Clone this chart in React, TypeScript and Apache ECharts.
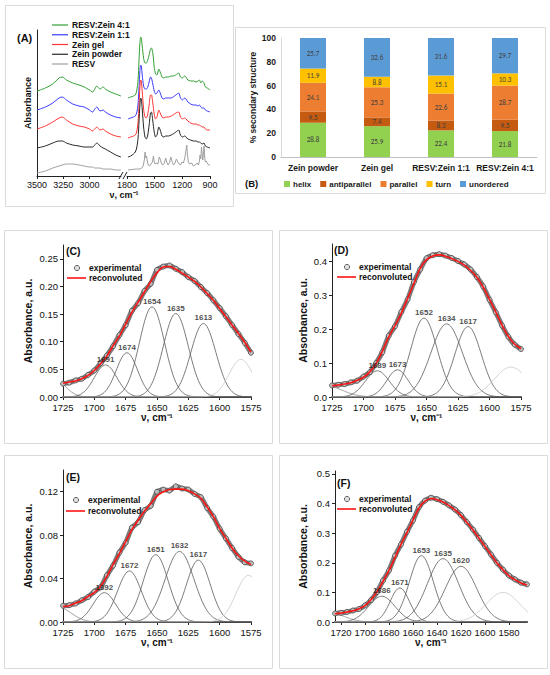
import { useEffect, useRef } from "react";
import * as echarts from "echarts";

const SANS = "'Liberation Sans', Arial, sans-serif";
const CAL = "Carlito, Lato, 'Liberation Sans', sans-serif";

// ---------- Panel A: FTIR spectra (offset, arbitrary units) ----------
const aHighWn = [3500, 3420, 3350, 3290, 3260, 3220, 3160, 3100, 3050, 3000, 2970, 2950, 2930, 2900, 2870, 2850, 2800, 2750, 2700];
const aHigh41 = [85, 88, 92, 98, 99, 96, 93, 91, 89, 86, 84, 87, 90, 87, 89, 87, 84, 82, 80];
const aHigh11 = [66, 69, 73, 78, 79, 76, 72, 70, 69, 66, 64, 67, 69, 65, 66, 64, 61, 59, 58];
const aHighGel = [47, 50, 54, 58, 59, 56, 52, 50, 49, 47, 45, 47, 49, 46, 47, 45, 42, 40, 39];
const aHighPowder = [28, 30, 33, 35, 35, 33, 31, 30, 29, 29, 29, 31, 33, 30, 28, 27, 24, 21, 19];
const aHighResv = [3, 5, 8, 10, 11, 12, 12, 11, 10, 9, 9, 8, 8, 8, 7, 7, 7, 6, 6];

const aLowWn = [1790, 1760, 1730, 1710, 1695, 1680, 1670, 1660, 1652, 1645, 1635, 1620, 1605, 1590, 1575, 1560, 1545, 1535, 1520, 1505, 1490, 1475, 1455, 1440, 1420, 1400, 1380, 1350, 1320, 1300, 1270, 1240, 1220, 1200, 1175, 1160, 1140, 1110, 1080, 1050, 1030, 1015, 1000, 985, 965, 950, 930, 900];
const aLow41 = [78, 79, 80, 81, 85, 96, 115, 133, 139, 138, 130, 118, 113, 113, 116, 121, 127, 128, 123, 109, 102, 101, 107, 104, 99, 98, 99, 99, 100, 100, 101, 103, 99, 98, 100, 99, 96, 95, 95, 94, 95, 96, 93, 95, 93, 89, 88, 86];
const aLow11 = [57, 58, 59, 60, 63, 72, 88, 105, 111, 110, 101, 90, 87, 87, 89, 94, 99, 98, 92, 85, 82, 83, 86, 83, 78, 77, 78, 78, 78, 79, 81, 83, 78, 76, 78, 77, 74, 72, 71, 71, 70, 71, 69, 68, 68, 66, 65, 64];
const aLowGel = [38, 39, 40, 41, 44, 54, 71, 89, 96, 95, 85, 67, 59, 58, 62, 71, 81, 81, 73, 62, 57, 59, 66, 63, 59, 58, 59, 59, 60, 61, 63, 64, 59, 57, 58, 57, 55, 53, 52, 52, 51, 51, 50, 49, 49, 47, 46, 46];
const aLowPowder = [19, 20, 22, 24, 28, 38, 54, 71, 78, 77, 67, 49, 39, 37, 41, 51, 63, 64, 55, 44, 39, 41, 49, 46, 40, 39, 40, 40, 41, 42, 44, 46, 41, 39, 40, 39, 37, 36, 35, 35, 34, 34, 33, 32, 33, 30, 29, 28];
const aResvWn = [1790, 1700, 1660, 1640, 1625, 1612, 1604, 1596, 1588, 1580, 1570, 1555, 1540, 1525, 1513, 1505, 1495, 1485, 1465, 1450, 1440, 1425, 1410, 1395, 1380, 1370, 1355, 1340, 1325, 1310, 1295, 1280, 1265, 1250, 1235, 1220, 1205, 1190, 1175, 1160, 1152, 1145, 1135, 1120, 1100, 1080, 1060, 1040, 1025, 1015, 1008, 1000, 992, 985, 978, 970, 965, 958, 950, 940, 925, 910, 900];
const aLowResv = [6, 7, 7, 8, 10, 16, 24, 18, 20, 15, 11, 10, 12, 14, 20, 14, 12, 13, 12, 19, 17, 12, 11, 13, 18, 14, 11, 13, 19, 14, 11, 13, 17, 14, 12, 11, 14, 13, 17, 26, 31, 22, 14, 12, 13, 10, 11, 13, 11, 15, 21, 17, 29, 22, 16, 24, 30, 19, 14, 15, 12, 11, 11];
const aNames = ["RESV:Zein 4:1", "RESV:Zein 1:1", "Zein gel", "Zein powder", "RESV"];
const aColors = ["#35a035", "#3a3aff", "#ff3434", "#262626", "#a0a0a0"];
const aHighTicks = [3500, 3250, 3000];
const aLowTicks = [1800, 1500, 1200, 900];

// ---------- Panel B: secondary structure (%) ----------
const bCategories = ["Zein powder", "Zein gel", "RESV:Zein 1:1", "RESV:Zein 4:1"];
const bHelix = [28.8, 25.9, 22.4, 21.8];
const bAntiparallel = [9.5, 7.4, 8.3, 9.5];
const bParallel = [24.1, 25.3, 22.6, 28.7];
const bTurn = [11.9, 8.8, 15.1, 10.3];
const bUnordered = [25.7, 32.6, 31.6, 29.7];
const bNames = ["helix", "antiparallel", "parallel", "turn", "unordered"];
const bColors = ["#92d050", "#c55a11", "#ed7d31", "#ffc000", "#5b9bd5"];

// ---------- Panels C-F: amide I band deconvolution ----------
const cdeWn = [1725, 1720, 1715, 1710, 1705, 1700, 1695, 1690, 1685, 1680, 1675, 1670, 1665, 1660, 1655, 1650, 1645, 1640, 1635, 1630, 1625, 1620, 1615, 1610, 1605, 1600, 1595, 1590, 1585, 1580, 1575];
const fWn = [1725, 1720, 1715, 1710, 1705, 1700, 1695, 1690, 1685, 1680, 1675, 1670, 1665, 1660, 1655, 1650, 1645, 1640, 1635, 1630, 1625, 1620, 1615, 1610, 1605, 1600, 1595, 1590, 1585, 1580, 1575, 1570, 1565];

const expC = [0.024, 0.026, 0.030, 0.033, 0.040, 0.048, 0.061, 0.075, 0.092, 0.112, 0.130, 0.156, 0.170, 0.192, 0.205, 0.230, 0.236, 0.238, 0.232, 0.226, 0.217, 0.210, 0.199, 0.188, 0.175, 0.161, 0.146, 0.130, 0.114, 0.098, 0.080];
const fitC = [0.025, 0.027, 0.029, 0.033, 0.039, 0.048, 0.060, 0.074, 0.093, 0.110, 0.132, 0.153, 0.172, 0.190, 0.209, 0.225, 0.235, 0.236, 0.231, 0.224, 0.217, 0.209, 0.199, 0.187, 0.175, 0.160, 0.145, 0.130, 0.115, 0.099, 0.081];
const bandCenterC = [1733, 1691, 1674, 1654, 1635, 1613, 1583];
const bandHeightC = [0.035, 0.058, 0.080, 0.163, 0.151, 0.133, 0.068];
const bandSigmaC = [9, 9, 8.5, 10, 10, 10, 9.5];

const expD = [0.034, 0.036, 0.038, 0.043, 0.048, 0.060, 0.073, 0.100, 0.132, 0.180, 0.208, 0.250, 0.287, 0.338, 0.375, 0.408, 0.417, 0.420, 0.416, 0.409, 0.400, 0.390, 0.375, 0.353, 0.325, 0.286, 0.249, 0.210, 0.177, 0.154, 0.141];
const fitD = [0.033, 0.035, 0.038, 0.042, 0.049, 0.058, 0.074, 0.098, 0.135, 0.176, 0.210, 0.246, 0.290, 0.334, 0.378, 0.404, 0.415, 0.418, 0.414, 0.407, 0.399, 0.388, 0.372, 0.352, 0.323, 0.287, 0.250, 0.211, 0.178, 0.155, 0.142];
const bandCenterD = [1730, 1689, 1673, 1652, 1634, 1617, 1583];
const bandHeightD = [0.033, 0.077, 0.080, 0.232, 0.215, 0.207, 0.088];
const bandSigmaD = [13, 9.5, 8.5, 10.5, 12.5, 10.5, 13];

const expE = [0.015, 0.0155, 0.017, 0.020, 0.023, 0.028, 0.032, 0.043, 0.052, 0.064, 0.073, 0.087, 0.092, 0.103, 0.107, 0.120, 0.122, 0.121, 0.125, 0.123, 0.122, 0.118, 0.115, 0.105, 0.097, 0.086, 0.077, 0.068, 0.060, 0.055, 0.054];
const fitE = [0.0144, 0.015, 0.0175, 0.0196, 0.0236, 0.027, 0.033, 0.042, 0.053, 0.063, 0.074, 0.085, 0.094, 0.102, 0.109, 0.116, 0.120, 0.122, 0.1224, 0.1224, 0.121, 0.118, 0.114, 0.106, 0.097, 0.086, 0.077, 0.068, 0.061, 0.056, 0.053];
const bandCenterE = [1728, 1692, 1672, 1651, 1632, 1617, 1577];
const bandHeightE = [0.013, 0.027, 0.047, 0.062, 0.065, 0.057, 0.043];
const bandSigmaE = [10, 9, 9.5, 10, 11.5, 9.5, 10];

const expF = [0.029, 0.031, 0.034, 0.039, 0.044, 0.056, 0.074, 0.101, 0.140, 0.174, 0.224, 0.262, 0.305, 0.343, 0.388, 0.410, 0.420, 0.415, 0.406, 0.394, 0.380, 0.361, 0.337, 0.312, 0.284, 0.256, 0.228, 0.200, 0.177, 0.157, 0.144, 0.133, 0.127];
const fitF = [0.028, 0.030, 0.034, 0.038, 0.045, 0.055, 0.075, 0.102, 0.137, 0.174, 0.218, 0.262, 0.302, 0.345, 0.385, 0.408, 0.417, 0.413, 0.405, 0.393, 0.379, 0.360, 0.336, 0.311, 0.283, 0.255, 0.227, 0.199, 0.176, 0.156, 0.143, 0.132, 0.125];
const bandCenterF = [1730, 1686, 1671, 1653, 1635, 1620, 1585];
const bandHeightF = [0.033, 0.087, 0.115, 0.224, 0.214, 0.188, 0.100];
const bandSigmaF = [12, 11, 8, 10, 13, 13, 14];

const cdeXTicks = [1725, 1700, 1675, 1650, 1625, 1600, 1575];
const fXTicks = [1720, 1700, 1680, 1660, 1640, 1620, 1600, 1580];
const cYTicks = [0, 0.05, 0.1, 0.15, 0.2, 0.25];
const dYTicks = [0, 0.1, 0.2, 0.3, 0.4];
const eYTicks = [0, 0.04, 0.08, 0.12];
const fYTicks = [0, 0.1, 0.2, 0.3, 0.4, 0.5];

const zip = (xs: number[], ys: number[]) => xs.map((x, i) => [x, ys[i]]);
const plain = (v: number) => String(v);

function bandCurve(c: number, h: number, s: number, lo: number, hi: number) {
  const pts: number[][] = [];
  for (let x = lo; x <= hi; x += 1) pts.push([x, h * Math.exp(-((x - c) * (x - c)) / (2 * s * s))]);
  return pts;
}

function buildOption() {
  const grid: any[] = [];
  const xAxis: any[] = [];
  const yAxis: any[] = [];
  const series: any[] = [];
  const graphic: any[] = [];

  const axisLineDark = { show: true, lineStyle: { color: "#222", width: 1 } };

  // ----- Panel A -----
  grid.push({ left: 37, top: 30, width: 84, height: 146, outerBoundsMode: "none" });
  grid.push({ left: 127, top: 30, width: 83, height: 146, outerBoundsMode: "none" });
  const aX = (gi: number, min: number, max: number, ticks: number[]) => ({
    type: "value", gridIndex: gi, min, max, inverse: true,
    axisLine: axisLineDark,
    axisTick: { show: true, length: 3, customValues: ticks, lineStyle: { color: "#222" } },
    axisLabel: { customValues: ticks, fontSize: 9, color: "#111", margin: 4, fontFamily: SANS, formatter: plain },
    splitLine: { show: false },
  });
  xAxis.push(aX(0, 2700, 3500, aHighTicks));
  xAxis.push(aX(1, 900, 1800, aLowTicks));
  yAxis.push({
    type: "value", gridIndex: 0, min: 0, max: 146,
    axisLine: axisLineDark, axisTick: { show: false }, axisLabel: { show: false }, splitLine: { show: false },
    name: "Absorbance", nameLocation: "middle", nameGap: 5, nameRotate: 90,
    nameTextStyle: { fontSize: 9, fontWeight: "bold", fontFamily: SANS, color: "#111" },
  });
  yAxis.push({ type: "value", gridIndex: 1, min: 0, max: 146, show: false });
  const aHigh = [aHigh41, aHigh11, aHighGel, aHighPowder, aHighResv];
  const aLow = [aLow41, aLow11, aLowGel, aLowPowder];
  aHigh.forEach((vals, i) => {
    series.push({ type: "line", xAxisIndex: 0, yAxisIndex: 0, data: zip(aHighWn, vals), showSymbol: false, smooth: 0.3, silent: true, lineStyle: { color: aColors[i], width: 1 } });
  });
  aLow.forEach((vals, i) => {
    series.push({ type: "line", xAxisIndex: 1, yAxisIndex: 1, data: zip(aLowWn, vals), showSymbol: false, smooth: 0.25, silent: true, lineStyle: { color: aColors[i], width: 1 } });
  });
  series.push({ type: "line", xAxisIndex: 1, yAxisIndex: 1, data: zip(aResvWn, aLowResv), showSymbol: false, silent: true, lineStyle: { color: aColors[4], width: 1 } });

  // ----- Panel B -----
  grid.push({ left: 281, top: 38, width: 256, height: 119, outerBoundsMode: "none" });
  xAxis.push({
    type: "category", gridIndex: 2, data: bCategories,
    axisLine: { show: true, lineStyle: { color: "#bfbfbf" } }, axisTick: { show: false },
    axisLabel: { fontSize: 8.5, fontWeight: "bold", color: "#1a1a1a", margin: 6, fontFamily: SANS, interval: 0 },
  });
  yAxis.push({
    type: "value", gridIndex: 2, min: 0, max: 100, interval: 20,
    axisLine: { show: true, lineStyle: { color: "#d9d9d9" } }, axisTick: { show: false }, splitLine: { show: false },
    axisLabel: { fontSize: 8.5, fontWeight: "bold", color: "#1a1a1a", margin: 5, fontFamily: SANS },
    name: "% secondary structure", nameLocation: "middle", nameGap: 24, nameRotate: 90,
    nameTextStyle: { fontSize: 8.5, fontWeight: "bold", fontFamily: SANS, color: "#1a1a1a" },
  });
  [bHelix, bAntiparallel, bParallel, bTurn, bUnordered].forEach((vals, i) => {
    series.push({
      type: "bar", name: bNames[i], xAxisIndex: 2, yAxisIndex: 2, stack: "ss", data: vals, barWidth: 26,
      itemStyle: { color: bColors[i] }, silent: true,
      label: { show: true, position: "inside", fontSize: 7, color: "#404040", fontFamily: CAL, formatter: (p: any) => Number(p.value).toFixed(1) },
    });
  });

  // ----- Panels C-F -----
  type P = {
    wn: number[]; exp: number[]; fit: number[]; centers: number[]; heights: number[]; sigmas: number[];
    xMin: number; xMax: number; yMax: number; xTicks: number[]; yTicks: number[]; dec: number;
    left: number; top: number; width: number; height: number; yGap: number; xGap: number;
  };
  const panels: P[] = [
    { wn: cdeWn, exp: expC, fit: fitC, centers: bandCenterC, heights: bandHeightC, sigmas: bandSigmaC, xMin: 1575, xMax: 1725, yMax: 0.275, xTicks: cdeXTicks, yTicks: cYTicks, dec: 2, left: 63, top: 245, width: 188, height: 152, yGap: 30, xGap: 15 },
    { wn: cdeWn, exp: expD, fit: fitD, centers: bandCenterD, heights: bandHeightD, sigmas: bandSigmaD, xMin: 1575, xMax: 1725, yMax: 0.45, xTicks: cdeXTicks, yTicks: dYTicks, dec: 1, left: 332, top: 244, width: 189, height: 153, yGap: 24, xGap: 15 },
    { wn: cdeWn, exp: expE, fit: fitE, centers: bandCenterE, heights: bandHeightE, sigmas: bandSigmaE, xMin: 1575, xMax: 1725, yMax: 0.14, xTicks: cdeXTicks, yTicks: eYTicks, dec: 2, left: 63, top: 470, width: 188, height: 152, yGap: 30, xGap: 15 },
    { wn: fWn, exp: expF, fit: fitF, centers: bandCenterF, heights: bandHeightF, sigmas: bandSigmaF, xMin: 1565, xMax: 1725, yMax: 0.51, xTicks: fXTicks, yTicks: fYTicks, dec: 1, left: 335, top: 471, width: 192, height: 151, yGap: 27, xGap: 12 },
  ];
  panels.forEach((p, k) => {
    const gi = 3 + k;
    grid.push({ left: p.left, top: p.top, width: p.width, height: p.height, outerBoundsMode: "none" });
    xAxis.push({
      type: "value", gridIndex: gi, min: p.xMin, max: p.xMax, inverse: true,
      axisLine: axisLineDark,
      axisTick: { show: true, length: 3, customValues: p.xTicks, lineStyle: { color: "#222" } },
      axisLabel: { customValues: p.xTicks, fontSize: 9.5, color: "#111", margin: 5, fontFamily: SANS, formatter: plain },
      splitLine: { show: false },
      name: "ν, cm⁻¹", nameLocation: "middle", nameGap: p.xGap,
      nameTextStyle: { fontSize: 10, fontWeight: "bold", fontFamily: SANS, color: "#111" },
    });
    yAxis.push({
      type: "value", gridIndex: gi, min: 0, max: p.yMax,
      axisLine: axisLineDark,
      axisTick: { show: true, length: 3, customValues: p.yTicks, lineStyle: { color: "#222" } },
      axisLabel: { customValues: p.yTicks, fontSize: 9.5, color: "#111", margin: 5, fontFamily: SANS, formatter: (v: number) => v.toFixed(p.dec) },
      splitLine: { show: false },
      name: "Absorbance, a.u.", nameLocation: "middle", nameGap: p.yGap, nameRotate: 90,
      nameTextStyle: { fontSize: 10.5, fontWeight: "bold", fontFamily: SANS, color: "#111" },
    });
    const last = p.centers.length - 1;
    p.centers.forEach((c, j) => {
      const color = j === last ? "#c9c9c9" : j === 0 ? "#8a8a8a" : "#5a5a5a";
      series.push({
        type: "line", xAxisIndex: gi, yAxisIndex: gi, data: bandCurve(c, p.heights[j], p.sigmas[j], p.xMin - 20, p.xMax + 20),
        showSymbol: false, silent: true, clip: true, z: 2, lineStyle: { color, width: 0.8 },
      });
    });
    series.push({
      type: "line", name: "experimental", xAxisIndex: gi, yAxisIndex: gi, data: zip(p.wn, p.exp), silent: true,
      symbol: "circle", symbolSize: 5, showSymbol: true, smooth: 0.2, z: 3,
      lineStyle: { color: "#7a7a7a", width: 5 },
      itemStyle: { color: "#bdbdbd", borderColor: "#3c3c3c", borderWidth: 0.7 },
    });
    series.push({
      type: "line", name: "reconvoluted", xAxisIndex: gi, yAxisIndex: gi, data: zip(p.wn, p.fit), silent: true,
      showSymbol: false, smooth: 0.3, z: 4, lineStyle: { color: "#ff1414", width: 1.6 },
    });
    const labelled = p.centers.slice(1, last).map((c, j) => [c, p.heights[j + 1]]);
    series.push({
      type: "scatter", xAxisIndex: gi, yAxisIndex: gi, data: labelled, symbolSize: 1, silent: true, z: 10,
      itemStyle: { color: "rgba(0,0,0,0)" },
      label: { show: true, position: "top", distance: 1, fontSize: 8, fontWeight: "bold", fontFamily: SANS, color: "#1a1a1a", formatter: (q: any) => String(q.value[0]) },
    });
  });

  // ----- decorations: frames, panel letters, legends -----
  const frame = (x: number, y: number, w: number, h: number) => ({
    type: "rect", shape: { x, y, width: w, height: h }, style: { fill: "none", stroke: "#dadada", lineWidth: 1 }, silent: true, z: -1,
  });
  graphic.push(frame(5.5, 5.5, 228, 201));
  graphic.push(frame(235.5, 27.5, 310, 166));
  graphic.push(frame(4.5, 230.5, 268, 213));
  graphic.push(frame(279.5, 230.5, 268, 213));
  graphic.push(frame(4.5, 455.5, 268, 213));
  graphic.push(frame(279.5, 455.5, 268, 213));
  const txt = (x: number, y: number, text: string, size: number, align = "left") => ({
    type: "text", x, y, silent: true, z: 20,
    style: { text, fontSize: size, fontWeight: "bold", fontFamily: SANS, fill: "#111", align, verticalAlign: "middle" },
  });
  graphic.push(txt(17, 38, "(A)", 11));
  graphic.push(txt(245, 183, "(B)", 9.5));
  graphic.push(txt(66, 251, "(C)", 10.5));
  graphic.push(txt(334, 250, "(D)", 10.5));
  graphic.push(txt(66, 477, "(E)", 10.5));
  graphic.push(txt(337, 483, "(F)", 10.5));
  graphic.push(txt(124, 195, "ν, cm⁻¹", 9, "center"));
  // axis break marks in panel A
  graphic.push({ type: "line", shape: { x1: 119, y1: 179, x2: 123, y2: 172 }, style: { stroke: "#222", lineWidth: 1 }, silent: true });
  graphic.push({ type: "line", shape: { x1: 123, y1: 179, x2: 127, y2: 172 }, style: { stroke: "#222", lineWidth: 1 }, silent: true });
  // panel A legend
  aNames.forEach((n, i) => {
    const y = 25 + i * 9.75;
    graphic.push({ type: "line", shape: { x1: 52, y1: y, x2: 68, y2: y }, style: { stroke: aColors[i], lineWidth: 1.2 }, silent: true });
    graphic.push(txt(72, y, n, 8.5));
  });
  // legends of C-F
  const legendPos = [
    [67, 268, 278],
    [337, 267, 277],
    [66, 500, 511],
    [337, 499, 509],
  ];
  legendPos.forEach(([x, y1, y2]) => {
    graphic.push({ type: "circle", shape: { cx: x + 10, cy: y1, r: 2.6 }, style: { fill: "#e0e0e0", stroke: "#555", lineWidth: 0.9 }, silent: true });
    graphic.push(txt(x + 22, y1, "experimental", 8.5));
    graphic.push({ type: "line", shape: { x1: x, y1: y2, x2: x + 19, y2: y2 }, style: { stroke: "#ff1414", lineWidth: 1.6 }, silent: true });
    graphic.push(txt(x + 22, y2, "reconvoluted", 8.5));
  });

  return {
    animation: false,
    backgroundColor: "#ffffff",
    textStyle: { fontFamily: SANS },
    grid, xAxis, yAxis, series, graphic,
    legend: [{
      data: bNames, left: 284, top: 180, width: 265, padding: 0, itemWidth: 6, itemHeight: 6, itemGap: 9, icon: "rect", selectedMode: false,
      textStyle: { fontSize: 8, fontWeight: "bold", fontFamily: SANS, color: "#1a1a1a", padding: [0, 0, 0, -2] },
    }],
    tooltip: { show: false },
  };
}

export default function App() {
  const ref = useRef<HTMLDivElement>(null);
  useEffect(() => {
    const el = ref.current;
    if (!el) return;
    // pin the chart to the page's top-left corner regardless of the body margin
    const r = el.getBoundingClientRect();
    if (r.left !== 0 || r.top !== 0) el.style.transform = `translate(${-r.left}px, ${-r.top}px)`;
    const chart = echarts.init(el, null, { renderer: "svg", width: 550, height: 675 });
    chart.setOption(buildOption() as any);
    return () => chart.dispose();
  }, []);
  return <div ref={ref} style={{ position: "absolute", left: 0, top: 0, width: 550, height: 675, background: "#fff" }} />;
}
